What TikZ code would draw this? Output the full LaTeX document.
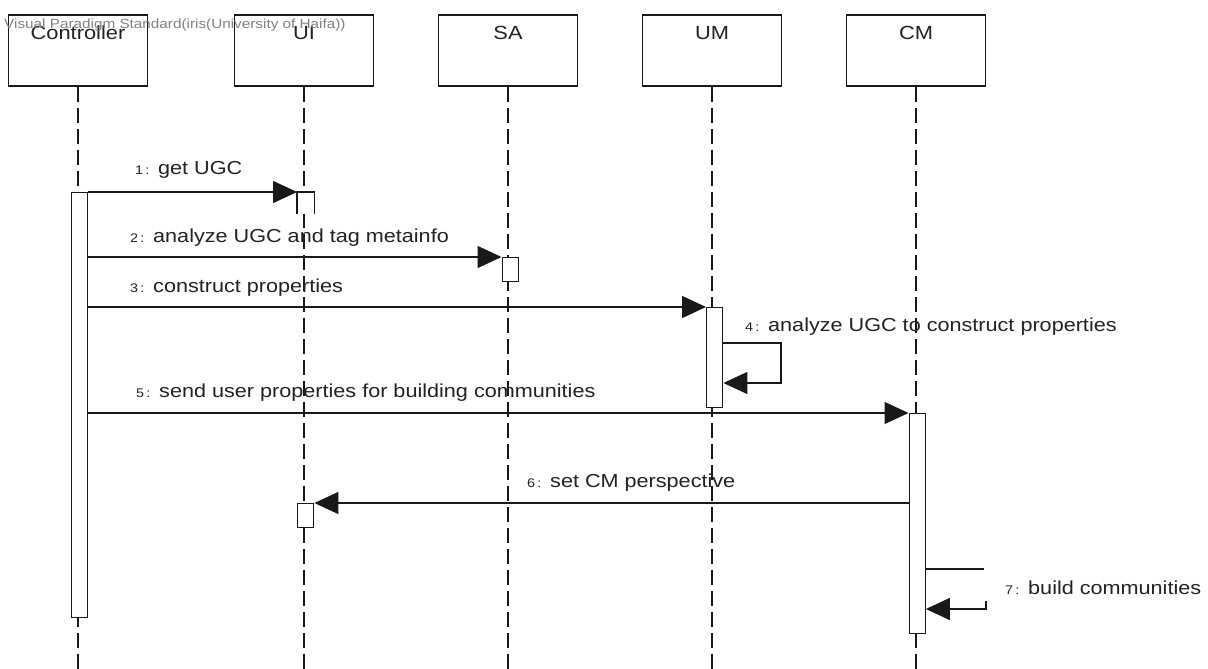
\documentclass[tikz,border=0pt]{standalone}
\usepackage{fontspec}
\setmainfont{Liberation Sans}
\newfontfamily\vpfont[FakeStretch=1.15]{Liberation Sans}
\usetikzlibrary{arrows.meta}

\definecolor{inkline}{RGB}{25,25,25}
\definecolor{inktext}{RGB}{35,35,35}
\definecolor{marktext}{RGB}{130,130,130}

\tikzset{
  lifebox/.style={draw=inkline, line width=1.6pt, fill=white, minimum width=139pt,
    minimum height=71pt, inner sep=0pt, anchor=north},
  headtext/.style={anchor=base, inner sep=0pt, font=\vpfont\fontsize{19}{22}\selectfont, text=inktext},
  lifeline/.style={draw=inkline, line width=1.4pt, dash pattern=on 15pt off 6pt},
  actbar/.style={draw=inkline, line width=1.4pt, fill=white, minimum width=16pt,
    inner sep=0pt, anchor=north west},
  actedge/.style={draw=inkline, line width=1.4pt},
  msgline/.style={draw=inkline, line width=1.4pt, -{Triangle[length=24pt,width=22pt]}},
  msgtext/.style={anchor=base west, inner sep=0pt, font=\vpfont\fontsize{18.8}{22}\selectfont, text=inktext},
  marknote/.style={anchor=base west, inner sep=0pt, font=\vpfont\fontsize{13.3}{15}\selectfont, text=marktext},
}
\newcommand{\seqnum}[1]{\makebox[23pt][l]{\fontsize{12.5}{14}\selectfont #1\,:}}

\begin{document}
\begin{tikzpicture}[x=1pt, y=-1pt]
  \useasboundingbox[fill=white] (0,0) rectangle (1208,669);

  % participant heads
  \node[lifebox] (ctrl) at (78,14)  {};
  \node[lifebox] (ui)   at (304,14) {};
  \node[lifebox] (sa)   at (508,14) {};
  \node[lifebox] (um)   at (712,14) {};
  \node[lifebox] (cm)   at (916,14) {};
  \node[headtext] (tctrl) at ([yshift=-26pt]ctrl.north) {Controller};
  \node[headtext] (tui)   at ([yshift=-26pt]ui.north)   {UI};
  \node[headtext] (tsa)   at ([yshift=-26pt]sa.north)   {SA};
  \node[headtext] (tum)   at ([yshift=-26pt]um.north)   {UM};
  \node[headtext] (tcm)   at ([yshift=-26pt]cm.north)   {CM};

  % lifelines
  \foreach \p in {ctrl,ui,sa,um,cm}
    \draw[lifeline] (\p.south) -- (\p.south |- 0,669);

  % activation bars
  \node[actbar, minimum height=425pt] (aC)  at (70.5,192) {};
  \node[actbar, minimum height=21pt, draw=none] (aU1) at (297,192) {};
  \draw[actedge] (aU1.south west) -- (aU1.north west) -- (aU1.north east) -- (aU1.south east);
  \node[actbar, minimum height=24pt]  (aS)  at (501.5,257) {};
  \node[actbar, minimum height=100pt] (aM)  at (706,307)  {};
  \node[actbar, minimum height=220pt] (aCM) at (908.5,413) {};
  \node[actbar, minimum height=24pt]  (aU2) at (297,503)  {};

  % messages
  \draw[msgline] (aC.north east) -- (aU1.north west);
  \draw[msgline] (aC.east |- aS.north west) -- (aS.north west);
  \draw[msgline] (aC.east |- aM.north west) -- (aM.north west);
  \coordinate (s4a) at (781,343);
  \coordinate (s4b) at (781,383);
  \draw[msgline] (aM.east |- s4a) -- (s4a) -- (s4b) -- (aM.east |- s4b);
  \draw[msgline] (aC.east |- aCM.north west) -- (aCM.north west);
  \draw[msgline] (aCM.west |- aU2.north east) -- (aU2.north east);
  \coordinate (s7a) at (984,569);
  \coordinate (s7b) at (986,601);
  \coordinate (s7c) at (986,609);
  \draw[actedge] (aCM.east |- s7a) -- (s7a);
  \draw[msgline] (s7b) -- (s7c) -- (aCM.east |- s7c);

  % message labels
  \node[msgtext] (m1) at (135,174)  {\seqnum{1}get UGC};
  \node[msgtext] (m2) at (130,242)  {\seqnum{2}analyze UGC and tag metainfo};
  \node[msgtext] (m3) at (130,292)  {\seqnum{3}construct properties};
  \node[msgtext] (m4) at (745,331)  {\seqnum{4}analyze UGC to construct properties};
  \node[msgtext] (m5) at (136,397)  {\seqnum{5}send user properties for building communities};
  \node[msgtext] (m6) at (527,487)  {\seqnum{6}set CM perspective};
  \node[msgtext] (m7) at (1005,594) {\seqnum{7}build communities};

  % edition note over the first heads
  \node[marknote] (note) at (4,28.5) {Visual Paradigm Standard(iris(University of Haifa))};
\end{tikzpicture}
\end{document}
